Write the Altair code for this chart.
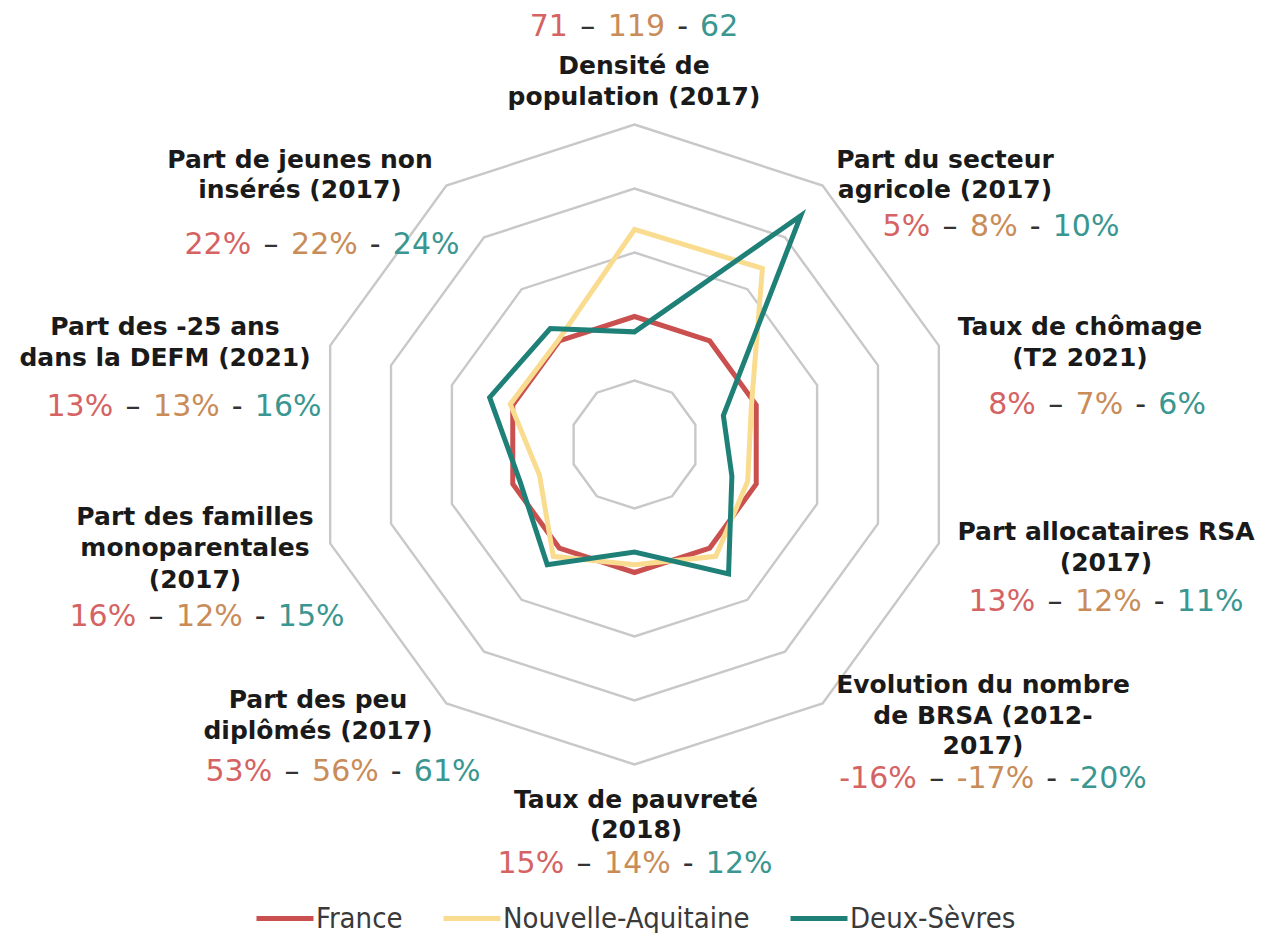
import altair as alt
import pandas as pd

# ---------------- data ----------------
categories = [
    "Densité de population (2017)",
    "Part du secteur agricole (2017)",
    "Taux de chômage (T2 2021)",
    "Part allocataires RSA (2017)",
    "Evolution du nombre de BRSA (2012-2017)",
    "Taux de pauvreté (2018)",
    "Part des peu diplômés (2017)",
    "Part des familles monoparentales (2017)",
    "Part des -25 ans dans la DEFM (2021)",
    "Part de jeunes non insérés (2017)",
]
label_lines = [
    ["Densité de", "population (2017)"],
    ["Part du secteur", "agricole (2017)"],
    ["Taux de chômage", "(T2 2021)"],
    ["Part allocataires RSA", "(2017)"],
    ["Evolution du nombre", "de BRSA (2012-", "2017)"],
    ["Taux de pauvreté", "(2018)"],
    ["Part des peu", "diplômés (2017)"],
    ["Part des familles", "monoparentales", "(2017)"],
    ["Part des -25 ans", "dans la DEFM (2021)"],
    ["Part de jeunes non", "insérés (2017)"],
]
series_names = ["France", "Nouvelle-Aquitaine", "Deux-Sèvres"]

# indices (France = 100) read from the radar
france_index = [100, 100, 100, 100, 100, 100, 100, 100, 100, 100]
na_index = [168, 170, 96, 93, 108, 94, 108, 78, 102, 101]
ds_index = [88, 221, 73, 80, 125, 84, 116, 94, 119, 112]

# displayed raw values
france_text = ["71", "5%", "8%", "13%", "-16%", "15%", "53%", "16%", "13%", "22%"]
na_text = ["119", "8%", "7%", "12%", "-17%", "14%", "56%", "12%", "13%", "22%"]
ds_text = ["62", "10%", "6%", "11%", "-20%", "12%", "61%", "15%", "16%", "24%"]

grid_levels = [50, 100, 150, 200, 250]

# ---------------- styles / layout ----------------
line_colors = ["#C9504E", "#F9DC8F", "#1F8078"]
text_colors = ["#D56363", "#C98C58", "#3A9690"]
sep_color = "#333333"
grid_color = "#C8C8C8"

W, H = 1255, 925
ORIGIN = 8
CX, CY = 634.5, 444.5          # page position of the radar centre
PX_PER_UNIT = 1.28             # 100 index points = 128 px
x_min = -(CX - ORIGIN) / PX_PER_UNIT
x_max = x_min + W / PX_PER_UNIT
y_max = (CY - ORIGIN) / PX_PER_UNIT
y_min = y_max - H / PX_PER_UNIT

LABEL_FS = 25
VALUE_FS = 30
# label block anchors (page coords): centre x, line centre ys
label_anchor = [
    (634, [66, 97]),
    (945, [160, 190]),
    (1080, [327, 358]),
    (1106, [532, 563]),
    (983, [685, 716, 746]),
    (636, [800, 830]),
    (318, [700, 731]),
    (195, [517, 548, 580]),
    (165, [327, 358]),
    (300, [160, 190]),
]
value_anchor = [
    (634, 27), (1001, 227), (1097, 405), (1106, 602), (993, 779),
    (635, 864), (343, 772), (207, 617), (184, 407), (322, 245),
]
GAP1_EM, GAP2_EM = 1.33, 1.17
CHAR_EM = {"%": 0.950, "-": 0.361, " ": 0.318, "–": 0.5}


def text_width(s, fs):
    return sum(CHAR_EM.get(c, 0.636) for c in s) * fs


# ---------------- tables ----------------
n = len(categories)
rows = []
for name, vals in zip(series_names, [france_index, na_index, ds_index]):
    for i, v in enumerate(vals):
        rows.append({"series": name, "i": i, "cat": categories[i], "v": v})
series_df = pd.DataFrame(rows)

grid_df = pd.DataFrame(
    [{"level": lv, "i": i, "v": lv} for lv in grid_levels for i in range(n)]
)

lab_rows = []
for (cx, ys), lines in zip(label_anchor, label_lines):
    for y, t in zip(ys, lines):
        lab_rows.append({"px": cx - ORIGIN, "py": y - ORIGIN, "text": t})
labels_df = pd.DataFrame(lab_rows)

val_rows = []
for k in range(n):
    cx, cy = value_anchor[k]
    f, a, d = france_text[k], na_text[k], ds_text[k]
    g1, g2 = GAP1_EM * VALUE_FS, GAP2_EM * VALUE_FS
    wf, wa, wd = (text_width(s, VALUE_FS) for s in (f, a, d))
    total = wf + g1 + wa + g2 + wd
    x0 = cx - total / 2 - ORIGIN
    py = cy - ORIGIN
    val_rows += [
        {"px": x0, "py": py, "text": f, "kind": "F"},
        {"px": x0 + wf + g1 / 2, "py": py, "text": "–", "kind": "sep"},
        {"px": x0 + wf + g1, "py": py, "text": a, "kind": "NA"},
        {"px": x0 + wf + g1 + wa + g2 / 2, "py": py, "text": "-", "kind": "sep"},
        {"px": x0 + wf + g1 + wa + g2, "py": py, "text": d, "kind": "DS"},
    ]
values_df = pd.DataFrame(val_rows)

# ---------------- chart ----------------
ANG = "datum.i * 2 * PI / %d" % n
X = alt.X("x:Q", scale=alt.Scale(domain=[x_min, x_max], nice=False, zero=False), axis=None)
Y = alt.Y("y:Q", scale=alt.Scale(domain=[y_min, y_max], nice=False, zero=False), axis=None)


def polar(ch):
    return ch.transform_calculate(
        x="datum.v * sin(%s)" % ANG, y="datum.v * cos(%s)" % ANG
    )


grid = polar(alt.Chart(grid_df)).mark_line(
    interpolate="linear-closed", color=grid_color, strokeWidth=2.4
).encode(x=X, y=Y, detail="level:N", order="i:Q")

SYMBOL_LEN = 57
color = alt.Color(
    "series:N",
    scale=alt.Scale(domain=series_names, range=line_colors),
    legend=alt.Legend(
        title=None,
        orient="none",
        legendX=246,
        legendY=916 - ORIGIN - SYMBOL_LEN / 2,
        direction="horizontal",
        symbolType="stroke",
        symbolStrokeWidth=5,
        symbolSize=SYMBOL_LEN * SYMBOL_LEN,
        labelFont="DejaVu Sans Condensed",
        labelFontSize=29,
        labelColor="#3A3A3A",
        labelOffset=0,
        labelLimit=600,
        columnPadding=30,
    ),
)

series_layers = []
for name in series_names:
    series_layers.append(
        polar(alt.Chart(series_df))
        .transform_filter(alt.datum.series == name)
        .mark_line(interpolate="linear-closed", strokeWidth=5, strokeJoin="miter")
        .encode(x=X, y=Y, color=color, order="i:Q")
    )

PX = alt.X("px:Q", scale=None, axis=None)
PY = alt.Y("py:Q", scale=None, axis=None)

labels = alt.Chart(labels_df).mark_text(
    font="DejaVu Sans", fontWeight="bold", fontSize=LABEL_FS, color="#1A1A1A",
    align="center", baseline="middle",
).encode(x=PX, y=PY, text="text:N")

value_layers = []
for kind, col in zip(["F", "NA", "DS"], text_colors):
    value_layers.append(
        alt.Chart(values_df).transform_filter(alt.datum.kind == kind).mark_text(
            font="DejaVu Sans", fontSize=VALUE_FS, color=col,
            align="left", baseline="middle",
        ).encode(x=PX, y=PY, text="text:N")
    )
seps = alt.Chart(values_df).transform_filter(alt.datum.kind == "sep").mark_text(
    font="DejaVu Sans", fontSize=VALUE_FS, color=sep_color,
    align="center", baseline="middle",
).encode(x=PX, y=PY, text="text:N")

chart = (
    alt.layer(grid, *series_layers, labels, *value_layers, seps)
    .resolve_scale(x="independent", y="independent")
    .properties(width=W, height=H, padding=0, autosize=alt.AutoSizeParams(type="none"))
    .configure_view(stroke=None)
)

chart.save("out.html", embed_options={"renderer": "svg", "actions": False})
